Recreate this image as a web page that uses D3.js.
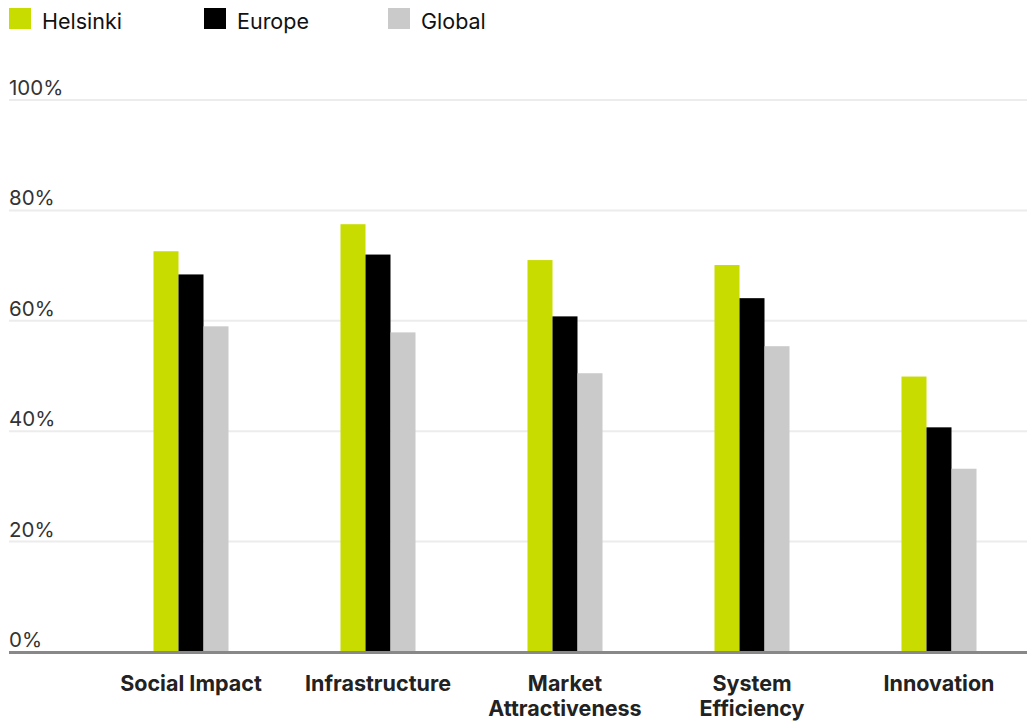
<!DOCTYPE html>
<html><head><meta charset="utf-8">
<script src="https://cdn.jsdelivr.net/npm/d3@7"></script>
<style>body{margin:0;background:#fff;} text{font-family:Inter, "Noto Sans", sans-serif;}</style>
</head><body>
<svg id="c" width="1027" height="721"></svg>
<script>
const categories = [["Social Impact"], ["Infrastructure"], ["Market", "Attractiveness"], ["System", "Efficiency"], ["Innovation"]];
const seriesNames = ["Helsinki", "Europe", "Global"];
const helsinki = [72.6, 77.5, 71.0, 70.1, 49.9];
const europe = [68.4, 72.0, 60.8, 64.1, 40.7];
const global = [59.0, 57.9, 50.5, 55.4, 33.2];
const yTicks = [0, 20, 40, 60, 80, 100];
const colors = ["#c8dc00", "#000000", "#cacaca"];

const series = [helsinki, europe, global];
const svg = d3.select("#c");
const y = d3.scaleLinear().domain([0, 100]).range([652, 100]);
const x = d3.scaleBand().domain(d3.range(categories.length)).range([97.5, 1032.5]);
const inner = d3.scaleBand().domain(d3.range(3)).range([-37.5, 37.5]);

// gridlines
svg.append("g").selectAll("line").data(yTicks.filter(d => d > 0)).join("line")
  .attr("x1", 9).attr("x2", 1027).attr("y1", d => y(d)).attr("y2", d => y(d))
  .attr("stroke", "#ececec").attr("stroke-width", 2);
// tick labels
svg.append("g").selectAll("text").data(yTicks).join("text")
  .attr("x", 9).attr("y", d => y(d) - 5).text(d => d + "%")
  .attr("font-size", 20.5).attr("fill", "#333");

// bars
const g = svg.append("g");
series.forEach((s, si) => {
  g.append("g").selectAll("rect").data(s).join("rect")
    .attr("x", (d, i) => x(i) + x.bandwidth() / 2 + inner(si))
    .attr("width", inner.bandwidth())
    .attr("y", d => y(d)).attr("height", d => y(0) - y(d))
    .attr("fill", colors[si]);
});

// baseline
svg.append("line").attr("x1", 9).attr("x2", 1027).attr("y1", y(0) + 0.5).attr("y2", y(0) + 0.5)
  .attr("stroke", "#888").attr("stroke-width", 3);

// category labels
const cl = svg.append("g").selectAll("text").data(categories).join("text")
  .attr("x", (d, i) => x(i) + x.bandwidth() / 2).attr("text-anchor", "middle")
  .attr("font-size", 21.5).attr("font-weight", 700).attr("fill", "#222");
cl.each(function(d) {
  d3.select(this).selectAll("tspan").data(d).join("tspan")
    .attr("x", d3.select(this).attr("x")).attr("y", (t, j) => 691 + j * 25).text(t => t);
});

// legend
const legX = [9, 204, 388];
const lg = svg.append("g").selectAll("g").data(seriesNames).join("g")
  .attr("transform", (d, i) => `translate(${legX[i]},8)`);
lg.append("rect").attr("width", 22).attr("height", 21).attr("fill", (d, i) => colors[i]);
lg.append("text").attr("x", 33).attr("y", 20.5).text(d => d).attr("font-size", 21.5).attr("fill", "#111");
</script>
</body></html>
